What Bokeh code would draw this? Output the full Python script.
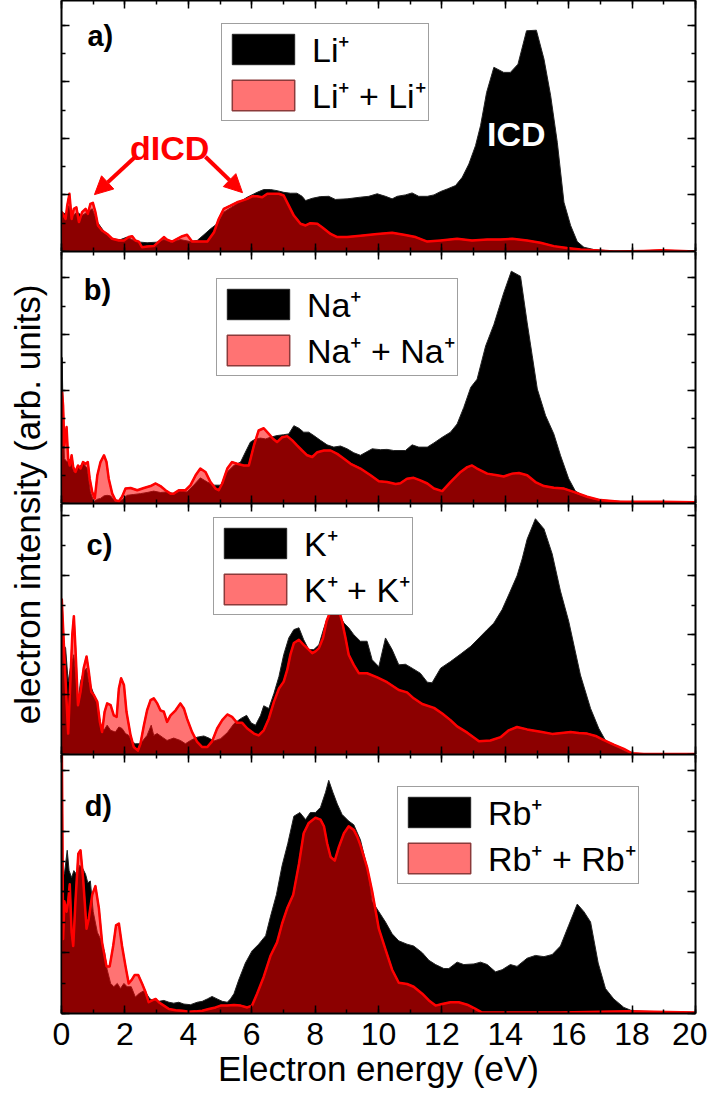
import numpy as np
from bokeh.plotting import figure
from bokeh.layouts import column, row
from bokeh.models import (Range1d, LinearAxis, SingleIntervalTicker, Legend, LegendItem,
                          Label, Arrow, NormalHead, CustomJSTickFormatter)
from bokeh.embed import file_html
from bokeh.resources import INLINE

FONT = "Liberation Sans"

# ---------------- data (electron energy in eV, intensity in arb. units) ----------------
li_E = [0.00,0.13,0.23,0.34,0.49,0.65,0.81,0.97,1.13,1.34,1.55,1.86,2.07,2.28,2.49,2.70,3.02,3.23,3.44,3.75,
        4.07,4.28,4.49,4.70,4.91,5.12,5.44,5.86,6.17,6.38,6.59,6.80,7.01,7.22,7.43,7.59,7.70,7.91,8.17,8.43,
        8.64,9.01,9.43,9.69,9.96,10.22,10.43,10.59,10.85,11.06,11.27,11.54,11.75,11.96,12.17,12.43,12.64,12.85,13.06,13.22,
        13.41,13.64,13.95,14.16,14.40,14.67,14.98,15.22,15.43,15.64,15.85,16.06,16.27,16.48,16.79,17.32,17.84,20.0]
li_I = [1.39,1.33,1.62,1.25,1.39,1.27,1.39,1.51,1.04,0.71,0.45,0.42,0.51,0.39,0.33,0.31,0.33,0.42,0.33,0.42,
        0.35,0.39,0.59,0.80,0.98,1.39,1.62,1.92,2.09,2.19,2.19,2.15,2.09,2.06,2.06,1.95,1.80,1.88,1.94,1.95,
        1.84,1.86,1.92,1.95,2.04,1.95,1.86,1.95,2.00,2.07,1.95,1.95,2.00,2.12,2.21,2.33,2.62,3.09,3.74,4.45,
        5.62,6.51,6.33,6.33,6.62,7.80,7.82,6.80,5.51,3.86,1.74,0.92,0.35,0.15,0.07,0.02,0.0,0.0]

li2_E = [0.00,0.01,0.13,0.18,0.25,0.32,0.39,0.47,0.55,0.65,0.76,0.83,0.91,0.99,1.07,1.15,1.28,1.44,1.60,1.81,
         1.97,2.12,2.23,2.33,2.44,2.54,2.70,2.91,3.07,3.23,3.33,3.49,3.65,3.81,3.96,4.12,4.28,4.44,4.60,4.81,
         4.96,5.12,5.33,5.54,5.70,5.86,6.01,6.17,6.33,6.49,6.65,6.86,7.01,7.17,7.33,7.54,7.70,7.85,8.07,8.22,
         8.49,8.70,9.01,9.43,9.96,10.43,10.80,11.17,11.54,11.96,12.48,12.95,13.43,13.85,14.22,14.69,15.11,15.53,15.95,16.37,
         16.79,17.42,18.37,18.90,20.0]
li2_I = [0.0,1.39,1.15,1.62,2.04,1.15,1.51,1.56,1.04,1.39,1.51,1.33,1.68,1.72,1.39,0.92,0.74,0.62,0.45,0.39,
         0.39,0.51,0.54,0.39,0.35,0.15,0.18,0.19,0.35,0.51,0.42,0.35,0.45,0.54,0.59,0.35,0.35,0.35,0.35,0.68,
         1.15,1.51,1.62,1.74,1.80,1.86,1.95,1.95,1.92,2.04,2.04,2.04,1.98,1.62,1.27,0.98,0.92,1.00,0.98,0.86,
         0.62,0.51,0.51,0.56,0.62,0.66,0.59,0.51,0.35,0.39,0.45,0.39,0.42,0.42,0.45,0.39,0.31,0.19,0.12,0.07,
         0.04,0.0,0.02,0.04,0.0]

na_E = [0.00,0.02,0.05,0.09,0.18,0.28,0.39,0.49,0.60,0.70,0.81,0.91,1.02,1.13,1.23,1.34,1.44,1.55,1.70,1.91,
        2.07,2.28,2.49,2.70,2.91,3.12,3.33,3.54,3.75,3.96,4.17,4.38,4.60,4.81,5.02,5.23,5.44,5.65,5.80,5.96,
        6.12,6.28,6.44,6.59,6.80,7.01,7.17,7.33,7.49,7.64,7.80,7.96,8.17,8.38,8.59,8.80,9.01,9.22,9.43,9.80,
        10.06,10.27,10.48,10.85,11.06,11.27,11.54,11.75,12.01,12.27,12.48,12.69,12.91,13.11,13.38,13.64,13.95,14.19,14.48,14.69,
        14.85,15.01,15.27,15.53,15.74,16.00,16.21,16.48,16.79,17.32,18.37,20.0]
na_I = [0.0,5.18,3.24,1.59,1.47,1.59,1.12,1.24,1.35,1.41,1.24,0.41,0.06,0.15,0.18,0.27,0.29,0.27,0.06,0.12,
        0.29,0.32,0.35,0.39,0.44,0.39,0.41,0.35,0.44,0.41,0.65,0.91,0.76,0.65,0.65,1.12,1.35,1.47,1.82,2.18,
        2.29,2.32,2.29,2.35,2.41,2.44,2.47,2.76,2.67,2.53,2.53,2.41,2.24,2.08,2.00,2.04,1.94,1.80,1.71,1.94,
        1.91,1.92,1.88,1.88,2.08,2.00,2.00,2.15,2.35,2.53,2.82,3.41,4.12,4.41,5.59,6.35,7.47,8.24,8.06,6.41,
        5.24,4.06,3.12,2.47,1.71,0.88,0.44,0.27,0.15,0.08,0.06,0.04]

na2_E = [0.00,0.02,0.05,0.09,0.16,0.21,0.26,0.32,0.37,0.44,0.52,0.60,0.68,0.76,0.83,0.89,0.97,1.05,1.13,1.23,
         1.34,1.42,1.49,1.60,1.70,1.81,1.91,2.02,2.18,2.39,2.60,2.81,2.97,3.12,3.28,3.44,3.54,3.70,3.91,4.07,
         4.23,4.38,4.54,4.70,4.86,4.96,5.07,5.23,5.38,5.54,5.75,5.91,6.07,6.22,6.38,6.54,6.68,6.80,6.96,7.12,
         7.28,7.43,7.59,7.75,7.91,8.07,8.28,8.49,8.70,8.91,9.12,9.43,9.75,10.01,10.27,10.54,10.69,10.90,11.11,11.32,
         11.54,11.75,12.01,12.27,12.59,12.80,12.95,13.11,13.43,13.74,13.95,14.22,14.43,14.69,14.95,15.22,15.53,15.85,16.16,16.58,
         17.00,17.63,18.90,20.0]
na2_I = [0.0,3.94,3.47,2.06,2.71,1.59,1.35,1.71,1.29,1.12,1.35,1.24,1.47,1.41,1.47,0.88,0.41,0.18,1.00,1.47,
         1.71,1.47,0.88,0.35,0.12,0.08,0.24,0.53,0.55,0.47,0.55,0.62,0.71,0.62,0.47,0.35,0.35,0.47,0.47,0.65,
         1.00,1.24,1.12,0.76,0.53,0.47,0.71,1.24,1.47,1.41,1.35,1.35,2.06,2.59,2.67,2.47,2.29,2.18,2.35,2.39,
         2.24,2.06,1.88,1.71,1.65,1.82,1.88,1.88,1.76,1.59,1.41,1.24,1.00,0.79,0.76,0.69,0.72,0.88,0.91,0.82,
         0.71,0.53,0.44,0.76,1.12,1.29,1.35,1.24,1.06,1.00,0.96,1.06,1.08,1.00,0.76,0.62,0.56,0.53,0.41,0.24,
         0.12,0.06,0.06,0.04]

k_E = [0.00,0.07,0.13,0.21,0.28,0.39,0.52,0.60,0.70,0.79,0.86,0.97,1.13,1.23,1.34,1.44,1.55,1.70,1.81,1.91,
       2.02,2.12,2.23,2.33,2.49,2.70,2.83,2.91,3.02,3.18,3.33,3.54,3.75,3.91,4.07,4.28,4.49,4.65,4.81,5.02,
       5.23,5.44,5.65,5.84,5.98,6.12,6.28,6.38,6.54,6.70,6.86,7.01,7.17,7.33,7.49,7.64,7.80,7.96,8.12,8.28,
       8.43,8.59,8.75,8.91,9.06,9.22,9.43,9.64,9.80,10.01,10.22,10.43,10.64,10.85,11.06,11.32,11.54,11.69,11.96,12.27,
       12.59,12.91,13.17,13.43,13.64,13.90,14.16,14.37,14.53,14.69,14.95,15.22,15.48,15.74,16.00,16.37,16.69,16.95,17.16,17.42,
       17.74,18.00,20.0]
k_I = [4.46,3.67,3.56,2.44,2.89,3.34,1.76,2.44,2.78,2.89,2.44,2.16,1.71,0.98,0.81,0.98,0.81,0.75,0.92,0.87,
       0.70,0.64,0.42,0.36,0.36,0.64,0.98,0.64,0.70,0.58,0.47,0.55,0.47,0.36,0.47,0.58,0.62,0.55,0.45,0.53,
       0.73,1.03,1.20,1.31,1.06,0.98,1.31,1.63,1.54,2.04,2.61,3.34,3.90,4.18,4.24,3.84,3.51,3.51,3.67,4.24,
       4.69,4.91,4.69,4.40,4.24,4.01,3.79,3.79,3.17,2.94,3.90,3.51,3.00,3.02,2.89,2.72,2.42,2.40,2.89,3.11,
       3.36,3.62,3.90,4.18,4.40,4.85,5.47,5.98,6.54,7.21,7.89,7.55,6.71,5.47,4.46,2.66,1.54,0.87,0.47,0.30,
       0.13,0.02,0.02]

k2_E = [0.00,0.01,0.05,0.13,0.21,0.28,0.34,0.39,0.44,0.52,0.60,0.70,0.79,0.86,0.94,1.02,1.13,1.21,1.28,1.36,
        1.44,1.55,1.65,1.74,1.81,1.88,1.97,2.05,2.18,2.28,2.41,2.49,2.60,2.70,2.81,2.91,3.02,3.12,3.23,3.33,
        3.44,3.60,3.75,3.86,3.96,4.12,4.28,4.44,4.60,4.75,4.91,5.07,5.23,5.38,5.54,5.70,5.86,6.07,6.22,6.38,
        6.54,6.70,6.86,7.01,7.12,7.22,7.33,7.49,7.64,7.80,7.91,8.01,8.12,8.25,8.36,8.49,8.61,8.75,8.85,8.96,
        9.06,9.22,9.38,9.64,9.96,10.27,10.64,10.90,11.11,11.38,11.75,12.01,12.27,12.48,12.80,13.17,13.53,13.85,14.11,14.37,
        14.69,15.11,15.48,15.85,16.06,16.32,16.58,16.85,17.06,17.42,17.74,18.00,18.37,20.0]
k2_I = [0.0,5.19,4.24,2.44,0.70,2.44,4.01,4.63,3.56,1.65,2.10,2.89,3.28,2.78,2.10,1.99,1.76,1.09,0.75,1.43,
        1.71,1.65,1.31,1.26,2.21,2.55,2.33,1.43,0.64,0.25,0.13,0.36,0.98,1.48,1.82,1.88,1.71,1.48,1.43,1.09,
        1.31,1.48,1.71,1.54,1.20,0.75,0.42,0.25,0.25,0.44,0.87,1.15,1.34,1.26,1.06,1.06,0.87,0.70,0.64,0.81,
        1.20,1.76,2.21,2.44,2.83,3.34,3.73,3.84,3.67,3.51,3.39,3.45,3.56,3.90,4.46,4.80,4.97,4.85,4.46,3.90,
        3.34,3.00,2.72,2.72,2.58,2.42,2.16,2.08,1.88,1.69,1.56,1.37,1.15,0.94,0.73,0.44,0.47,0.58,0.81,0.92,
        0.84,0.76,0.69,0.73,0.75,0.72,0.70,0.62,0.51,0.33,0.19,0.04,0.02,0.02]

rb_E = [0.00,0.09,0.18,0.24,0.32,0.39,0.47,0.57,0.65,0.76,0.83,0.91,1.00,1.13,1.23,1.36,1.44,1.55,1.65,1.76,
        1.86,1.97,2.07,2.20,2.33,2.44,2.58,2.68,2.79,2.91,3.07,3.23,3.39,3.54,3.70,3.86,4.07,4.28,4.44,4.60,
        4.75,4.91,5.07,5.23,5.33,5.44,5.59,5.80,6.01,6.22,6.44,6.59,6.78,6.96,7.14,7.33,7.52,7.70,7.85,8.01,
        8.17,8.33,8.43,8.56,8.70,8.85,9.06,9.22,9.43,9.64,9.80,10.01,10.22,10.43,10.64,10.90,11.11,11.38,11.59,11.80,
        12.06,12.22,12.48,12.69,13.01,13.22,13.43,13.69,13.90,14.16,14.37,14.69,14.95,15.22,15.48,15.74,16.00,16.27,16.48,16.69,
        16.93,17.16,17.42,17.74,18.00,18.37,20.0]
rb_I = [4.81,4.58,5.37,4.70,4.47,4.70,4.58,4.87,4.81,4.58,4.30,4.36,3.35,2.67,2.45,2.00,1.44,0.99,0.88,0.99,
        0.82,0.99,0.88,0.88,0.54,0.65,0.74,0.65,0.48,0.43,0.40,0.43,0.37,0.34,0.37,0.31,0.29,0.37,0.40,0.48,
        0.56,0.48,0.40,0.37,0.48,0.65,1.10,1.66,2.06,2.28,2.56,3.18,3.91,4.87,5.60,6.49,6.61,6.38,6.61,6.61,
        6.78,7.28,7.67,7.28,6.89,6.55,6.33,6.21,5.71,4.81,3.69,3.35,3.01,2.62,2.39,2.28,2.22,2.00,1.75,1.61,
        1.48,1.48,1.69,1.61,1.63,1.69,1.61,1.37,1.44,1.61,1.55,1.82,1.91,1.87,1.94,2.22,2.90,3.60,3.35,3.01,
        1.66,0.82,0.48,0.20,0.09,0.07,0.03]

rb2_E = [0.00,0.01,0.05,0.09,0.16,0.21,0.26,0.32,0.37,0.44,0.53,0.60,0.68,0.79,0.86,0.97,1.07,1.18,1.28,1.42,
         1.52,1.63,1.72,1.81,1.91,2.02,2.12,2.21,2.31,2.42,2.54,2.65,2.75,2.86,2.97,3.07,3.23,3.39,3.60,3.81,
         4.02,4.23,4.44,4.65,4.86,5.02,5.23,5.44,5.65,5.86,6.01,6.17,6.38,6.59,6.80,6.96,7.12,7.31,7.49,7.64,
         7.80,8.01,8.17,8.28,8.38,8.49,8.62,8.75,8.91,9.06,9.22,9.33,9.43,9.64,9.80,10.01,10.22,10.43,10.64,10.90,
         11.11,11.38,11.59,11.80,12.01,12.27,12.53,12.80,13.06,13.27,15.74,17.84,20.0]
rb2_I = [0.0,9.0,2.45,3.69,3.35,3.69,4.25,2.67,2.22,3.69,5.26,5.37,4.47,2.79,3.12,3.91,4.19,3.46,2.34,1.55,
         1.55,2.22,2.90,2.96,2.22,1.55,0.99,1.10,1.27,1.27,0.99,0.71,0.37,0.43,0.48,0.37,0.26,0.15,0.11,0.09,
         0.06,0.07,0.09,0.15,0.20,0.26,0.26,0.28,0.26,0.20,0.26,0.65,1.21,1.89,2.34,2.96,3.46,3.91,4.92,5.93,
         6.27,6.44,6.38,6.16,5.60,5.15,5.03,5.48,5.93,6.16,6.04,5.82,5.54,4.81,4.02,2.79,2.11,1.44,1.01,0.97,
         0.88,0.65,0.43,0.26,0.31,0.37,0.37,0.29,0.15,0.03,0.03,0.07,0.03]

panel_tags = ["a)", "b)", "c)", "d)"]
single_labels = ["Li\u207a", "Na\u207a", "K\u207a", "Rb\u207a"]
pair_labels = ["Li\u207a + Li\u207a", "Na\u207a + Na\u207a", "K\u207a + K\u207a", "Rb\u207a + Rb\u207a"]
x_tick_interval = 2
y_tick_interval = 2

series = {"li": (li_E, li_I), "li2": (li2_E, li2_I), "na": (na_E, na_I), "na2": (na2_E, na2_I),
          "k": (k_E, k_I), "k2": (k2_E, k2_I), "rb": (rb_E, rb_I), "rb2": (rb2_E, rb2_I)}
for nm, (a, b) in series.items():
    if len(a) != len(b):
        raise ValueError(f"{nm}: {len(a)} vs {len(b)}")

# ---------------- layout settings ----------------
LABW = 50                     # width of the strip that carries the y title
W = 699 + 8 - LABW
LEFT, RIGHT = 61 - LABW, 12
frame_h = [251, 252, 251, 252]
ymax = [8.87, 8.94, 8.40, 8.52]
legend_off = [(160, 16), (155, 20), (152, 7), (336, 18)]   # (x from frame left, y from frame top)
tag_pos = [(0.82, 7.62), (0.70, 7.57), (0.79, 7.01), (0.73, 6.83)]
LEG_H = 105
BOTTOM = 84

xr = Range1d(0, 20)
figs = []
data_pairs = [("li", "li2"), ("na", "na2"), ("k", "k2"), ("rb", "rb2")]
blank = CustomJSTickFormatter(code="return ''")


def style_axis(ax, labels=False):
    ax.axis_line_width = 2
    ax.axis_line_color = "black"
    ax.major_tick_in = 8
    ax.major_tick_out = 0
    ax.minor_tick_in = 4
    ax.minor_tick_out = 0
    ax.major_tick_line_width = 1.5
    ax.minor_tick_line_width = 1.5
    ax.major_tick_line_color = "black"
    ax.minor_tick_line_color = "black"
    if labels:
        ax.major_label_text_font = FONT
        ax.major_label_text_font_size = "32px"
        ax.major_label_text_color = "black"
        ax.major_label_standoff = 9
    else:
        ax.formatter = blank
        ax.major_label_text_font_size = "0px"
        ax.major_label_standoff = 0


def polygon(E, I):
    return list(E) + list(E)[::-1], list(I) + [0.0] * len(E)


for i in range(4):
    last = i == 3
    h = frame_h[i] + (BOTTOM if last else 0)
    p = figure(width=W, height=h, x_range=xr, y_range=Range1d(0, ymax[i]),
               x_axis_type=None, y_axis_type=None, toolbar_location=None,
               output_backend="svg", min_border_left=LEFT, min_border_right=RIGHT,
               min_border_top=0, min_border_bottom=0, outline_line_color=None,
               background_fill_color="white", border_fill_color="white")
    for side in ("below", "above"):
        ax = LinearAxis(ticker=SingleIntervalTicker(interval=x_tick_interval, num_minor_ticks=2))
        style_axis(ax, labels=(last and side == "below"))
        if last and side == "below":
            ax.axis_label = "Electron energy (eV)"
            ax.axis_label_text_font = FONT
            ax.axis_label_text_font_size = "35px"
            ax.axis_label_text_font_style = "normal"
            ax.axis_label_text_color = "black"
            ax.axis_label_standoff = 1
        p.add_layout(ax, side)
    for side in ("left", "right"):
        ax = LinearAxis(ticker=SingleIntervalTicker(interval=y_tick_interval, num_minor_ticks=2))
        style_axis(ax, labels=False)
        p.add_layout(ax, side)

    s1, s2 = data_pairs[i]
    E1, I1 = series[s1]
    E2, I2 = series[s2]
    bx, by = polygon(E1, I1)
    rx, ry = polygon(E2, I2)
    r_black = p.patch(bx, by, fill_color="black", line_color="#222222", line_width=1)
    r_red = p.patch(rx, ry, fill_color="red", fill_alpha=0.55, line_color="#8B3A3A", line_width=1.5)
    p.line(E2, I2, line_color="red", line_width=2.5, line_join="round")

    lx, ly = legend_off[i]
    leg = Legend(items=[LegendItem(label=single_labels[i], renderers=[r_black]),
                        LegendItem(label=pair_labels[i], renderers=[r_red])],
                 location=(lx, frame_h[i] - ly - LEG_H), margin=0, padding=2, spacing=-6,
                 glyph_width=78, glyph_height=38, label_standoff=10, label_height=38,
                 label_text_font=FONT, label_text_font_size="34px", label_text_color="black",
                 border_line_color="#404040", border_line_width=1.5,
                 background_fill_color="white", background_fill_alpha=1.0)
    p.add_layout(leg)

    tx, ty = tag_pos[i]
    p.add_layout(Label(x=tx, y=ty, text=panel_tags[i], text_font=FONT, text_font_size="29px",
                       text_font_style="bold", text_color="black", text_baseline="middle"))

    if i == 0:
        p.add_layout(Label(x=14.35, y=4.15, text="ICD", text_font=FONT, text_font_size="34px",
                           text_font_style="bold", text_color="white", text_align="center",
                           text_baseline="middle"))
        p.add_layout(Label(x=3.41, y=3.65, text="dICD", text_font=FONT, text_font_size="34px",
                           text_font_style="bold", text_color="red", text_align="center",
                           text_baseline="middle"))
        for (xs, ys, xe, ye) in [(2.33, 3.35, 1.04, 2.01), (4.54, 3.35, 5.71, 2.08)]:
            p.add_layout(Arrow(end=NormalHead(size=18, fill_color="red", line_color="red"),
                               x_start=xs, y_start=ys, x_end=xe, y_end=ye,
                               line_color="red", line_width=4))
    figs.append(p)

TOTAL_H = sum(frame_h) + BOTTOM
lab = figure(width=LABW, height=TOTAL_H, x_range=Range1d(0, LABW), y_range=Range1d(0, TOTAL_H),
             x_axis_type=None, y_axis_type=None, toolbar_location=None, output_backend="svg",
             min_border=0, outline_line_color=None, background_fill_color="white",
             border_fill_color="white")
lab.add_layout(Label(x=27, y=TOTAL_H - 504, text="electron intensity (arb. units)",
                     text_font=FONT, text_font_size="35px", text_color="black",
                     angle=np.pi / 2, text_align="center", text_baseline="middle"))

layout = row(lab, column(*figs, spacing=0), spacing=0)
open("out.html", "w").write(file_html(layout, INLINE))
